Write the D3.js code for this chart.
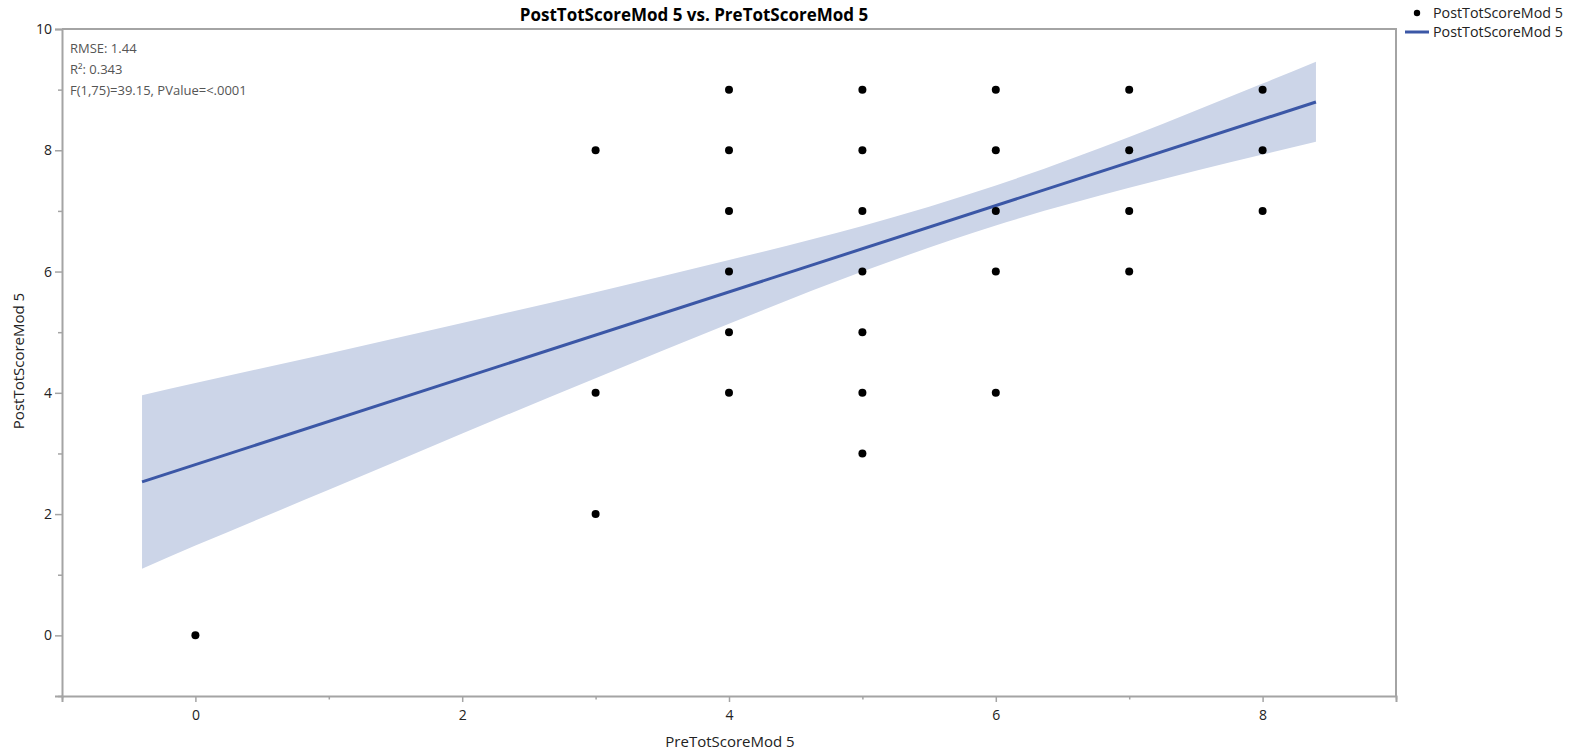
<!DOCTYPE html>
<html>
<head>
<meta charset="utf-8">
<script src="https://cdn.jsdelivr.net/npm/d3@7"></script>
<style>
  html, body { margin: 0; padding: 0; background: #fff; }
  svg { display: block; font-family: "Open Sans", "Noto Sans", sans-serif; }
</style>
</head>
<body>
<svg id="chart" width="1575" height="752"></svg>
<script>
// Observations (pre score, post score)
const preScores  = [0, 3, 3, 3, 4, 4, 4, 4, 4, 4, 5, 5, 5, 5, 5, 5, 5, 6, 6, 6, 6, 6, 7, 7, 7, 7, 8, 8, 8];
const postScores = [0, 8, 4, 2, 9, 8, 7, 6, 5, 4, 9, 8, 7, 6, 5, 4, 3, 9, 8, 7, 6, 4, 9, 8, 7, 6, 9, 8, 7];

// Fitted line and its confidence band
const fitIntercept = 2.816;
const fitSlope = 0.712;
const bandX     = [-0.4, 0, 1, 2, 3, 4, 5, 6, 7, 8, 8.4];
const bandLower = [1.10, 1.48, 2.40, 3.33, 4.24, 5.14, 6.00, 6.76, 7.38, 7.93, 8.14];
const bandUpper = [3.96, 4.16, 4.65, 5.15, 5.66, 6.19, 6.75, 7.42, 8.22, 9.10, 9.46];

const statLines = ["RMSE: 1.44", "R\u00B2: 0.343", "F(1,75)=39.15, PValue=<.0001"];
const xTickValues = [-1, 0, 1, 2, 3, 4, 5, 6, 7, 8, 9];
const yTickValues = [-1, 0, 1, 2, 3, 4, 5, 6, 7, 8, 9, 10];

const svg = d3.select("#chart");
const plotLeft = 62, plotRight = 1396, plotTop = 29, plotBottom = 696;
const axisColor = "#a4a4a4";
const textColor = "#222";

const x = d3.scaleLinear().domain([-1, 9]).range([plotLeft, plotRight]);
const y = d3.scaleLinear().domain([-1, 10]).range([plotBottom, plotTop]);

// Confidence band
const bandData = bandX.map((v, i) => ({ x: v, lo: bandLower[i], hi: bandUpper[i] }));
svg.append("path")
  .datum(bandData)
  .attr("fill", "#ccd5e8")
  .attr("d", d3.area().curve(d3.curveMonotoneX)
    .x(d => x(d.x)).y0(d => y(d.lo)).y1(d => y(d.hi)));

// Regression line
const lineEnds = [bandX[0], bandX[bandX.length - 1]];
svg.append("path")
  .datum(lineEnds)
  .attr("fill", "none")
  .attr("stroke", "#3b57a6")
  .attr("stroke-width", 3)
  .attr("d", d3.line().x(d => x(d)).y(d => y(fitIntercept + fitSlope * d)));

// Points
svg.append("g").selectAll("circle")
  .data(preScores.map((v, i) => [v, postScores[i]]))
  .join("circle")
  .attr("cx", d => x(d[0]))
  .attr("cy", d => y(d[1]))
  .attr("r", 4)
  .attr("fill", "#000");

// Frame (top and right)
svg.append("path")
  .attr("fill", "none")
  .attr("stroke", axisColor)
  .attr("stroke-width", 2)
  .attr("d", `M${plotLeft},${plotTop}H${plotRight}V${plotBottom}`);

// Axes
const xAxis = d3.axisBottom(x)
  .tickValues(xTickValues)
  .tickSize(6)
  .tickFormat(d => (d % 2 === 0 ? d : ""));
const gx = svg.append("g").attr("transform", `translate(0,${plotBottom})`).call(xAxis);

const yAxis = d3.axisLeft(y)
  .tickValues(yTickValues)
  .tickSize(7)
  .tickFormat(d => (d % 2 === 0 ? d : ""));
const gy = svg.append("g").attr("transform", `translate(${plotLeft},0)`).call(yAxis);

[gx, gy].forEach(g => {
  g.select(".domain").attr("stroke", axisColor).attr("stroke-width", 2);
  g.selectAll(".tick line").attr("stroke", axisColor).attr("stroke-width", 1.5);
  g.selectAll(".tick text").attr("fill", textColor).attr("font-size", 14)
    .attr("font-family", "'Open Sans', 'Noto Sans', sans-serif");
});
gx.selectAll(".tick").filter(d => d % 2 !== 0).select("line").attr("y2", 3.5);
gy.selectAll(".tick").filter(d => d % 2 !== 0).select("line").attr("x2", -4);
gx.selectAll(".tick text").attr("dy", "0.71em").attr("y", 14);
gy.selectAll(".tick text").attr("x", -10);

// Fit statistics
svg.append("g").selectAll("text")
  .data(statLines)
  .join("text")
  .attr("x", 70)
  .attr("y", (d, i) => 53 + i * 21)
  .attr("font-size", 13)
  .attr("fill", "#555")
  .text(d => d);

// Title
svg.append("text")
  .attr("x", 694).attr("y", 21)
  .attr("text-anchor", "middle")
  .attr("font-size", 17).attr("font-weight", "bold")
  .attr("fill", "#000")
  .text("PostTotScoreMod 5 vs. PreTotScoreMod 5");

// Axis titles
svg.append("text")
  .attr("x", 730).attr("y", 747)
  .attr("text-anchor", "middle")
  .attr("font-size", 15).attr("fill", textColor)
  .text("PreTotScoreMod 5");
svg.append("text")
  .attr("transform", "translate(24,361) rotate(-90)")
  .attr("text-anchor", "middle")
  .attr("font-size", 15).attr("fill", textColor)
  .text("PostTotScoreMod 5");

// Legend
const legend = svg.append("g");
legend.append("circle").attr("cx", 1417).attr("cy", 13).attr("r", 3.2).attr("fill", "#000");
legend.append("line")
  .attr("x1", 1405).attr("x2", 1429).attr("y1", 32).attr("y2", 32)
  .attr("stroke", "#3b57a6").attr("stroke-width", 3);
legend.selectAll("text")
  .data(["PostTotScoreMod 5", "PostTotScoreMod 5"])
  .join("text")
  .attr("x", 1433)
  .attr("y", (d, i) => 18 + i * 19)
  .attr("font-size", 14.3)
  .attr("fill", textColor)
  .text(d => d);
</script>
</body>
</html>
